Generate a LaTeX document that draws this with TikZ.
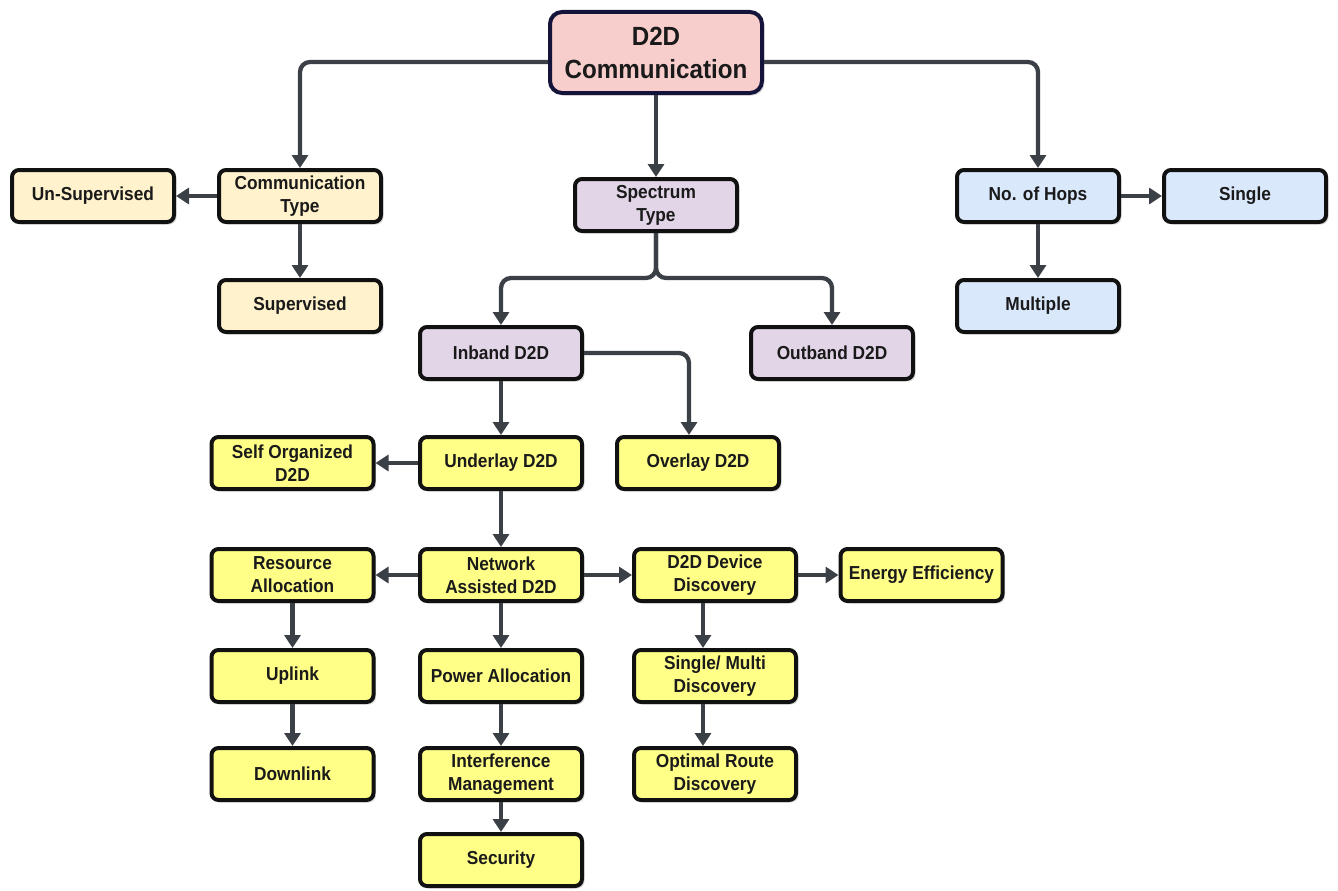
\documentclass[tikz,border=0pt]{standalone}
\usepackage{fontspec}
\setmainfont[FakeStretch=0.92]{Liberation Sans}
\usetikzlibrary{arrows.meta,shadows,calc}
\definecolor{boxline}{HTML}{111111}
\definecolor{rootline}{HTML}{14143A}
\definecolor{arrowc}{HTML}{3B3F46}
\definecolor{txt}{HTML}{1A1A1A}
\definecolor{fpink}{HTML}{F8CECC}
\definecolor{fcream}{HTML}{FFF2CC}
\definecolor{flav}{HTML}{E1D5E7}
\definecolor{fblue}{HTML}{DAE8FC}
\definecolor{fyel}{HTML}{FFFF88}
\tikzset{
  box/.style={draw=boxline, line width=4pt, rounded corners=7pt,
    minimum width=162pt, minimum height=52pt, align=center, inner sep=2pt,
    font=\bfseries\fontsize{18.8}{23}\selectfont, text=txt,
    drop shadow={opacity=0.25, shadow xshift=2.5pt, shadow yshift=-2.5pt}},
  cream/.style={box, fill=fcream},
  lav/.style={box, fill=flav},
  blu/.style={box, fill=fblue},
  yel/.style={box, fill=fyel},
  conn/.style={draw=arrowc, line width=4.3pt, rounded corners=10pt,
    -{Triangle[length=13pt,width=16pt]}},
}
\begin{document}
\begin{tikzpicture}[x=1pt,y=-1pt]
\useasboundingbox (0,0) rectangle (1338,891);
% nodes
\node[box, fill=fpink, draw=rootline, rounded corners=12pt, minimum width=212pt, minimum height=81pt,
  font=\bfseries\fontsize{26.3}{33}\selectfont] (root) at (656,52.5) {D2D\\Communication};
\node[cream] (unsup) at (93,196) {Un-Supervised};
\node[cream] (comm) at (300,196) {Communication\\Type};
\node[cream] (sup) at (300,306) {Supervised};
\node[lav] (spec) at (656,205) {Spectrum\\Type};
\node[blu] (hops) at (1038,196) {No. of Hops};
\node[blu] (single) at (1245,196) {Single};
\node[blu] (multiple) at (1038,306) {Multiple};
\node[lav] (inband) at (501,353) {Inband D2D};
\node[lav] (outband) at (832,353) {Outband D2D};
\node[yel] (underlay) at (501,463) {Underlay D2D};
\node[yel] (overlay) at (698,463) {Overlay D2D};
\node[yel] (selforg) at (292.5,463) {Self Organized\\D2D};
\node[yel] (network) at (501,575) {Network\\Assisted D2D};
\node[yel] (resource) at (292.5,575) {Resource\\Allocation};
\node[yel] (discovery) at (715,575) {D2D Device\\Discovery};
\node[yel] (energy) at (921.5,575) {Energy Efficiency};
\node[yel] (uplink) at (292.5,676) {Uplink};
\node[yel] (power) at (501,676) {Power Allocation};
\node[yel] (smulti) at (715,676) {Single/ Multi\\Discovery};
\node[yel] (downlink) at (292.5,774) {Downlink};
\node[yel] (interf) at (501,774) {Interference\\Management};
\node[yel] (optimal) at (715,774) {Optimal Route\\Discovery};
\node[yel] (security) at (501,860) {Security};
% connectors
\draw[conn] ($(root.west)+(0,9.5)$) -| (comm.north);
\draw[conn] ($(root.east)+(0,9.5)$) -| (hops.north);
\draw[conn] (root.south) -- (spec.north);
\draw[conn] (comm.west) -- (unsup.east);
\draw[conn] (comm.south) -- (sup.north);
\draw[conn] (hops.east) -- (single.west);
\draw[conn] (hops.south) -- (multiple.north);
\draw[conn] (spec.south) -- ++(0,45) -| (inband.north);
\draw[conn] (spec.south) -- ++(0,45) -| (outband.north);
\draw[conn] (inband.south) -- (underlay.north);
\draw[conn] (inband.east) -| ([xshift=-9pt]overlay.north);
\draw[conn] (underlay.west) -- (selforg.east);
\draw[conn] (underlay.south) -- (network.north);
\draw[conn] (network.west) -- (resource.east);
\draw[conn] (network.east) -- (discovery.west);
\draw[conn] (network.south) -- (power.north);
\draw[conn] (discovery.east) -- (energy.west);
\draw[conn] ([xshift=-12pt]discovery.south) -- ([xshift=-12pt]smulti.north);
\draw[conn] ([xshift=-12pt]smulti.south) -- ([xshift=-12pt]optimal.north);
\draw[conn] (resource.south) -- (uplink.north);
\draw[conn] (uplink.south) -- (downlink.north);
\draw[conn] (power.south) -- (interf.north);
\draw[conn] (interf.south) -- (security.north);
\end{tikzpicture}
\end{document}
